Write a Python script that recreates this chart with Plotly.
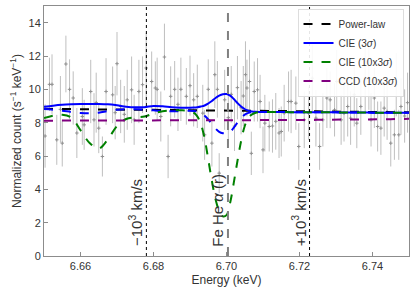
import plotly.graph_objects as go

# ---------------- data ----------------
energy = [
    6.6503, 6.6515, 6.6522, 6.6535, 6.6545, 6.6550, 6.6560, 6.6570, 6.6580, 6.6590,
    6.6605, 6.6610, 6.6628, 6.6637, 6.6643, 6.6650, 6.6660, 6.6670, 6.6688, 6.6695,
    6.6700, 6.6710, 6.6720, 6.6728, 6.6740, 6.6747, 6.6760, 6.6770, 6.6780, 6.6795,
    6.6805, 6.6810, 6.6820, 6.6830, 6.6840, 6.6847, 6.6858, 6.6867, 6.6875, 6.6890,
    6.6900, 6.6910, 6.6920, 6.6935, 6.6940, 6.6950, 6.6960, 6.6968, 6.6975, 6.6980,
    6.6995, 6.7005, 6.7013, 6.7022, 6.7030, 6.7040, 6.7046, 6.7052, 6.7056, 6.7063,
    6.7068, 6.7076, 6.7085, 6.7092, 6.7100, 6.7105, 6.7117, 6.7126, 6.7135, 6.7144,
    6.7150, 6.7158, 6.7170, 6.7177, 6.7190, 6.7198, 6.7213, 6.7225, 6.7235, 6.7245,
    6.7255, 6.7264, 6.7275, 6.7284, 6.7296, 6.7302, 6.7314, 6.7322, 6.7332, 6.7340,
    6.7350, 6.7357, 6.7368, 6.7380, 6.7390, 6.7396, 6.7405, 6.7414, 6.7423, 6.7432,
    6.7440, 6.7450, 6.7460, 6.7465, 6.7472, 6.7478, 6.7488, 6.7496,
]
counts = [
    7.20, 10.30, 10.30, 6.97, 8.80, 6.77, 11.52, 10.00, 9.48, 7.38,
    8.37, 7.87, 9.87, 8.17, 9.20, 7.67, 5.97, 9.87, 9.67, 8.60,
    11.54, 8.97, 8.50, 9.37, 9.97, 8.17, 9.87, 10.28, 11.28, 10.47,
    10.08, 10.00, 8.37, 11.94, 5.97, 9.58, 10.00, 9.10, 10.00, 9.58,
    10.22, 9.37, 9.58, 8.57, 7.27, 10.00, 6.77, 10.88, 10.00, 4.97,
    9.37, 8.30, 9.70, 7.80, 10.10, 8.90, 9.60, 10.88, 10.08, 10.47,
    6.16, 9.87, 9.97, 9.27, 6.37, 7.97, 7.77, 7.80, 8.08, 7.38,
    7.47, 8.57, 9.27, 9.27, 9.17, 6.57, 8.17, 8.57, 10.67, 8.27,
    6.57, 8.17, 9.48, 9.37, 8.77, 10.47, 8.17, 8.57, 8.97, 8.27,
    9.67, 7.97, 8.97, 10.67, 10.67, 8.17, 9.48, 7.77, 7.67, 8.87,
    8.67, 6.77, 7.27, 10.28, 7.27, 8.97, 8.40, 9.20,
]
count_err = [
    1.9, 1.6, 1.8, 1.5, 2.0, 1.4, 1.7, 1.8, 1.6, 1.5,
    1.7, 1.5, 1.9, 1.6, 1.8, 1.5, 1.2, 2.0, 1.7, 1.6,
    1.9, 1.6, 1.7, 1.8, 2.0, 1.5, 1.9, 1.7, 2.1, 1.8,
    1.6, 1.9, 1.5, 2.0, 1.3, 1.8, 1.7, 1.6, 1.9, 1.7,
    1.8, 1.6, 1.9, 1.7, 1.5, 1.8, 1.4, 2.0, 1.7, 1.2,
    1.8, 1.6, 1.7, 1.5, 1.9, 1.6, 1.8, 2.0, 1.7, 1.9,
    1.3, 1.8, 1.9, 1.6, 1.4, 1.7, 1.5, 1.6, 1.7, 1.5,
    1.5, 1.7, 1.8, 1.9, 1.6, 1.4, 1.7, 1.6, 2.0, 1.7,
    1.4, 1.6, 1.8, 1.7, 1.6, 1.9, 1.5, 1.7, 1.8, 1.6,
    1.9, 1.5, 1.7, 2.0, 1.9, 1.6, 1.8, 1.5, 1.6, 1.7,
    1.7, 1.4, 1.5, 1.9, 1.5, 1.7, 1.6, 1.8,
]

model_energy = [
    6.650, 6.6525, 6.655, 6.6575, 6.660, 6.6625, 6.665, 6.6675, 6.670, 6.6725,
    6.675, 6.6775, 6.680, 6.6825, 6.685, 6.6875,
    6.690, 6.691, 6.692, 6.693, 6.694, 6.695, 6.696, 6.697, 6.698, 6.699,
    6.700, 6.701, 6.702, 6.703, 6.704, 6.705, 6.706, 6.707, 6.708, 6.709, 6.710,
    6.7125, 6.715, 6.7175, 6.720, 6.7225, 6.725, 6.7275, 6.730, 6.7325, 6.735,
    6.7375, 6.740, 6.7425, 6.745, 6.7475, 6.750,
]
power_law = [
    8.83, 8.82, 8.82, 8.81, 8.81, 8.80, 8.80, 8.79, 8.79, 8.78,
    8.78, 8.77, 8.77, 8.76, 8.76, 8.75,
    8.75, 8.75, 8.74, 8.74, 8.74, 8.74, 8.74, 8.73, 8.73, 8.73,
    8.72, 8.72, 8.72, 8.72, 8.72, 8.71, 8.71, 8.71, 8.71, 8.71, 8.71,
    8.70, 8.70, 8.69, 8.69, 8.68, 8.68, 8.67, 8.67, 8.66, 8.66,
    8.65, 8.65, 8.64, 8.64, 8.63, 8.62,
]
cie_3sig = [
    8.95, 9.02, 9.07, 9.10, 9.12, 9.12, 9.12, 9.10, 9.04, 8.96,
    8.92, 8.93, 9.00, 8.98, 8.92, 8.90,
    8.90, 8.91, 8.93, 8.97, 9.03, 9.15, 9.30, 9.48, 9.62, 9.71,
    9.72, 9.62, 9.42, 9.18, 8.97, 8.82, 8.72, 8.67, 8.65, 8.64, 8.64,
    8.64, 8.64, 8.63, 8.63, 8.63, 8.62, 8.62, 8.62, 8.61, 8.61,
    8.61, 8.60, 8.60, 8.60, 8.59, 8.59,
]
cie_3sig_abs = [
    8.82, 8.78, 8.72, 8.64, 8.58, 8.56, 8.60, 8.70, 8.78, 8.80,
    8.80, 8.78, 8.74, 8.70, 8.68, 8.70,
    8.72, 8.70, 8.66, 8.57, 8.42, 8.20, 7.92, 7.65, 7.45, 7.37,
    7.37, 7.45, 7.70, 8.00, 8.28, 8.48, 8.59, 8.63, 8.64, 8.64, 8.64,
    8.64, 8.64, 8.63, 8.63, 8.63, 8.62, 8.62, 8.62, 8.61, 8.61,
    8.61, 8.60, 8.60, 8.60, 8.59, 8.59,
]
cie_10x3sig = [
    8.27, 8.42, 8.47, 8.30, 7.55, 6.78, 6.45, 7.00, 7.80, 8.22,
    8.32, 8.37, 8.55, 8.68, 8.73, 8.74,
    8.70, 8.60, 8.38, 7.90, 7.05, 5.80, 4.50, 3.40, 2.70, 2.38,
    2.45, 3.20, 4.40, 5.70, 6.90, 7.80, 8.30, 8.50, 8.60, 8.63, 8.64,
    8.64, 8.64, 8.63, 8.63, 8.63, 8.62, 8.62, 8.62, 8.61, 8.61,
    8.61, 8.60, 8.60, 8.60, 8.59, 8.59,
]
ccd_10x3sig = [
    8.12, 8.12, 8.12, 8.12, 8.12, 8.12, 8.12, 8.12, 8.12, 8.12,
    8.12, 8.12, 8.12, 8.12, 8.12, 8.12,
    8.13, 8.13, 8.13, 8.13, 8.13, 8.13, 8.13, 8.13, 8.13, 8.13,
    8.13, 8.13, 8.13, 8.13, 8.13, 8.13, 8.13, 8.13, 8.14, 8.14, 8.14,
    8.14, 8.15, 8.15, 8.16, 8.16, 8.17, 8.17, 8.18, 8.18, 8.19,
    8.19, 8.20, 8.21, 8.21, 8.22, 8.23,
]

E_LINE = 6.7004          # Fe He alpha (r), keV
C_KMS = 299792.458
V_KMS = 1000.0
line_labels = ["\u221210<sup>3</sup> km/s", "Fe He <i>\u03b1</i> (r)", "+10<sup>3</sup> km/s"]

FONT = "Liberation Sans, Arial, sans-serif"

# ---------------- figure ----------------
fig = go.Figure()

fig.add_trace(go.Scatter(
    x=energy, y=counts, mode="markers", showlegend=False,
    marker=dict(symbol="cross-thin", size=2.5, color="#909090",
                line=dict(width=1, color="#909090")),
    error_y=dict(type="data", array=count_err, width=0, thickness=1,
                 color="rgba(175,175,175,0.8)"),
    hoverinfo="skip",
))

fig.add_trace(go.Scatter(x=model_energy, y=power_law, mode="lines", name="Power-law",
                         line=dict(color="black", width=2, dash="dash")))
fig.add_trace(go.Scatter(x=model_energy, y=cie_3sig, mode="lines", name="CIE (3<i>\u03c3</i>)",
                         line=dict(color="#0000ff", width=2, shape="spline")))
fig.add_trace(go.Scatter(x=model_energy, y=cie_3sig_abs, mode="lines", showlegend=False,
                         line=dict(color="#0000ff", width=2, dash="dash", shape="spline")))
fig.add_trace(go.Scatter(x=model_energy, y=cie_10x3sig, mode="lines", name="CIE (10x3<i>\u03c3</i>)",
                         line=dict(color="#008000", width=2, dash="dash", shape="spline")))
fig.add_trace(go.Scatter(x=model_energy, y=ccd_10x3sig, mode="lines", name="CCD (10x3<i>\u03c3</i>)",
                         line=dict(color="#800080", width=2, dash="dash")))

e_minus = E_LINE * (1 - V_KMS / C_KMS)
e_plus = E_LINE * (1 + V_KMS / C_KMS)
for ex, style, col, w in [(e_minus, "dot", "black", 1), (E_LINE, "dash", "#808080", 2),
                          (e_plus, "dot", "black", 1)]:
    fig.add_shape(type="line", xref="x", yref="paper", x0=ex, x1=ex, y0=0, y1=1,
                  line=dict(color=col, width=w, dash=style))

for ex, txt in zip([e_minus, E_LINE, e_plus], line_labels):
    fig.add_annotation(x=ex - 0.0031, y=0.45, xref="x", yref="y", text=txt,
                       textangle=-90, showarrow=False, xanchor="center", yanchor="bottom",
                       font=dict(size=15, color="#333333", family=FONT))

axis_common = dict(showline=True, linecolor="#8c8c8c", linewidth=1, mirror=True,
                   ticks="inside", ticklen=4, tickcolor="#8c8c8c", showgrid=False,
                   zeroline=False, tickfont=dict(size=11, color="#333333"))

fig.update_xaxes(range=[6.65, 6.75], tickvals=[6.66, 6.68, 6.70, 6.72, 6.74],
                 ticktext=["6.66", "6.68", "6.70", "6.72", "6.74"],
                 title=dict(text="Energy (keV)", font=dict(size=12, color="#333333"), standoff=4),
                 **axis_common)
fig.update_yaxes(range=[0, 15], tickvals=[0, 2, 4, 6, 8, 10, 12, 14],
                 title=dict(text="Normalized count (s<sup>\u22121</sup> keV<sup>\u22121</sup>)",
                            font=dict(size=12, color="#333333"), standoff=4),
                 **axis_common)

fig.update_layout(
    width=415, height=294,
    margin=dict(l=44, r=6, t=6, b=38),
    paper_bgcolor="white", plot_bgcolor="white",
    font=dict(family=FONT, color="#333333"),
    legend=dict(x=0.985, y=0.99, xanchor="right", yanchor="top",
                bgcolor="rgba(255,255,255,0.9)", bordercolor="#dddddd", borderwidth=1,
                font=dict(size=10, color="#333333"), tracegroupgap=0,
                itemwidth=30),
    showlegend=True,
)

fig.write_html("out.html", config={"displayModeBar": False},
               post_script="document.body.style.margin='0px';")
